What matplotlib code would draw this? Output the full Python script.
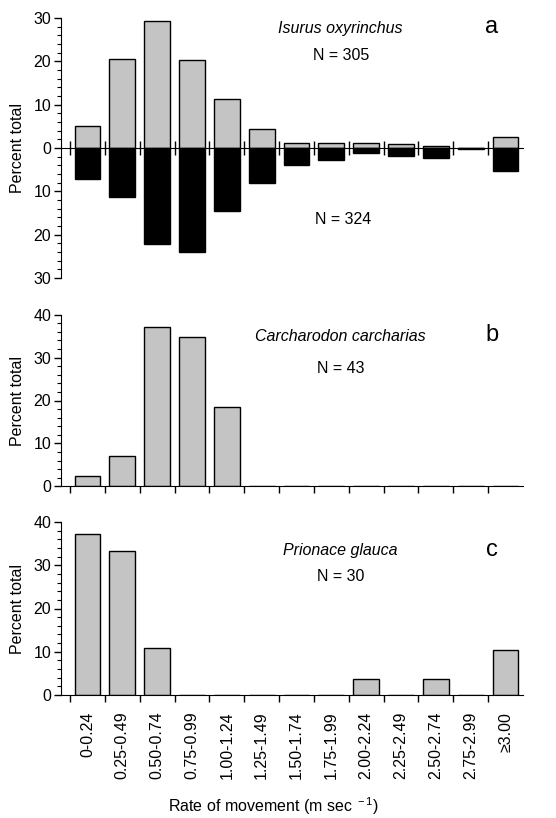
import matplotlib
matplotlib.use('Agg')
import matplotlib.pyplot as plt
from matplotlib.ticker import MultipleLocator, FixedLocator, FuncFormatter
import numpy as np

plt.rcParams['font.family'] = ['Liberation Sans', 'DejaVu Sans']
plt.rcParams['mathtext.fontset'] = 'custom'
plt.rcParams['mathtext.rm'] = 'Liberation Sans'

# rate classes (m/s)
categories = ['0-0.24', '0.25-0.49', '0.50-0.74', '0.75-0.99', '1.00-1.24', '1.25-1.49',
              '1.50-1.74', '1.75-1.99', '2.00-2.24', '2.25-2.49', '2.50-2.74', '2.75-2.99', '\u22653.00']

# Isurus oxyrinchus, upper (N=305) and lower (N=324) distributions
mako_up = [5.1, 20.5, 29.2, 20.2, 11.2, 4.5, 1.2, 1.2, 1.2, 0.9, 0.4, 0.1, 2.6]
mako_down = [7.1, 11.3, 22.2, 24.0, 14.5, 8.1, 3.9, 2.8, 1.2, 1.8, 2.2, 0.3, 5.2]
# Carcharodon carcharias (N=43)
white = [2.3, 7.0, 37.2, 34.9, 18.6, 0, 0, 0, 0, 0, 0, 0, 0]
# Prionace glauca (N=30)
blue = [37.3, 33.3, 10.8, 0, 0, 0, 0, 0, 3.8, 0, 3.8, 0, 10.4]

gray = '#c4c4c4'
W, H = 556, 818
x = np.arange(len(categories)) + 0.5
edges = np.arange(len(categories))

fig = plt.figure(figsize=(W / 100, H / 100), dpi=100)

def make_ax(top, bottom):
    ax = fig.add_axes([61 / W, 1 - bottom / H, (523 - 61) / W, (bottom - top) / H])
    ax.spines['top'].set_visible(False)
    ax.spines['right'].set_visible(False)
    ax.set_xlim(-0.26, 13.0)
    ax.yaxis.set_major_locator(MultipleLocator(10))
    ax.yaxis.set_minor_locator(MultipleLocator(2))
    ax.tick_params(axis='y', which='major', length=5, width=1, labelsize=11.5, pad=2)
    ax.tick_params(axis='y', which='minor', length=3, width=0.8)
    ax.xaxis.set_major_locator(FixedLocator(edges))
    ax.set_ylabel('Percent total', fontsize=11.5)
    ax.yaxis.set_label_coords(-0.078, 0.5)
    return ax

def panel_text(species, n, letter, y_sp, y_n, y_l):
    fig.text(340 / W, 1 - y_sp / H, species, style='italic', fontsize=11.5, ha='center', va='center')
    fig.text(341 / W, 1 - y_n / H, n, fontsize=11.5, ha='center', va='center')
    fig.text(492 / W, 1 - y_l / H, letter, fontsize=17, ha='center', va='center')

# panel a
ax1 = make_ax(18, 278)
ax1.set_ylim(-30, 30)
ax1.bar(x, mako_up, width=0.74, color=gray, edgecolor='black', linewidth=1)
ax1.bar(x, -np.array(mako_down), width=0.74, color='black', edgecolor='black', linewidth=1)
ax1.spines['bottom'].set_position(('data', 0))
ax1.tick_params(axis='x', which='major', direction='inout', length=10, width=1, labelbottom=False)
ax1.yaxis.set_major_formatter(FuncFormatter(lambda v, p: f'{abs(v):.0f}'))
panel_text('Isurus oxyrinchus', 'N = 305', 'a', 28, 56, 27)
fig.text(343 / W, 1 - 220 / H, 'N = 324', fontsize=11.5, ha='center', va='center')

# panel b
ax2 = make_ax(314.7, 486.3)
ax2.set_ylim(0, 40)
ax2.bar(x, white, width=0.74, color=gray, edgecolor='black', linewidth=1)
ax2.tick_params(axis='x', which='major', length=5, width=1, labelbottom=False)
panel_text('Carcharodon carcharias', 'N = 43', 'b', 336.7, 368.3, 335)

# panel c
ax3 = make_ax(522, 695)
ax3.set_ylim(0, 40)
ax3.bar(x, blue, width=0.74, color=gray, edgecolor='black', linewidth=1)
ax3.tick_params(axis='x', which='major', length=5, width=1, labelbottom=False)
ax3.xaxis.set_minor_locator(FixedLocator(x))
ax3.set_xticklabels(categories, minor=True, rotation=90)
ax3.tick_params(axis='x', which='minor', length=0, labelsize=11.5, pad=12)
panel_text('Prionace glauca', 'N = 30', 'c', 550, 576.7, 550)

fig.text(273 / W, 1 - 806 / H, r'Rate of movement (m sec$^{\ -1}$)', fontsize=11.5, ha='center', va='center')

fig.savefig('out.png', dpi=100)
